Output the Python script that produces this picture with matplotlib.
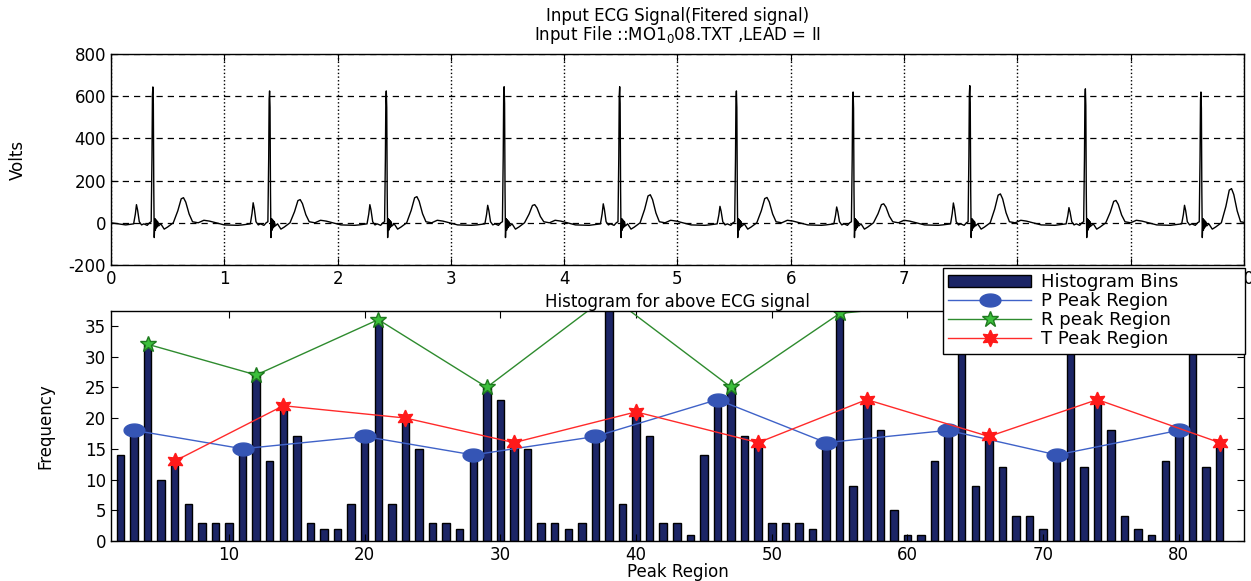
"""
ECG signal and peak-region histogram (recreated figure).
"""

import numpy as np
import matplotlib

matplotlib.use("Agg")
import matplotlib.pyplot as plt
from matplotlib.path import Path


# ==========================================================
# Data
# ==========================================================

# R peak times (s) and per-beat wave amplitudes
r_times = [0.37, 1.40, 2.43, 3.47, 4.49, 5.52, 6.55, 7.58, 8.60, 9.62]
r_amps = [644, 625, 625, 645, 645, 625, 620, 650, 635, 620]
p_amps = [86, 95, 86, 83, 90, 78, 75, 94, 72, 83]
t_amps = [119, 110, 124, 86, 133, 120, 90, 137, 106, 162]

# one beat, knots relative to the R peak: offset (s), value, which wave it belongs to
beat_offsets = [-0.24, -0.17, -0.155, -0.145, -0.135, -0.12, -0.10, -0.08,
                -0.05, -0.03, -0.015, -0.008, -0.004, 0.0, 0.004, 0.008,
                0.012, 0.018, 0.022, 0.026, 0.03, 0.034, 0.038, 0.042,
                0.05, 0.07, 0.10, 0.13, 0.18,
                0.22, 0.25, 0.27, 0.29, 0.32, 0.35, 0.40, 0.45, 0.50,
                0.63, 0.75]
beat_values = [-10, -5, 40, 85, 60, 5, -10, -5,
               -12, 0, 5, 310, 600, 640, 560, 150,
               -70, 20, -35, 15, -25, 10, -20, 5,
               -15, -5, -30, -20, 0,
               55, 110, 115, 95, 40, 5, 0, 12, 8,
               -10, -12]
beat_wave = ["b", "b", "p", "p", "p", "b", "b", "b",
             "b", "b", "b", "r", "r", "r", "r", "r",
             "b", "b", "b", "b", "b", "b", "b", "b",
             "b", "b", "b", "b", "b",
             "t", "t", "t", "t", "t", "b", "b", "b", "b",
             "b", "b"]
signal_start = (0.0, 0.0)

# histogram of the peak regions
bin_centers = list(range(2, 84))
bin_counts = [
    14, 18, 32, 10, 13, 6, 3, 3, 3, 15,       # 2-11
    27, 13, 22, 17, 3, 2, 2, 6, 17, 36,       # 12-21
    6, 20, 15, 3, 3, 2, 14, 25, 23, 16,       # 22-31
    15, 3, 3, 2, 3, 17, 40, 6, 21, 17,        # 32-41
    3, 3, 1, 14, 23, 25, 17, 16, 3, 3,        # 42-51
    3, 2, 16, 37, 9, 23, 18, 5, 1, 1,         # 52-61
    13, 18, 39, 9, 17, 12, 4, 4, 2, 14,       # 62-71
    35, 12, 23, 18, 4, 2, 1, 13, 18, 34,      # 72-81
    12, 16,                                   # 82-83
]

p_region = [3, 11, 20, 28, 37, 46, 54, 63, 71, 80]
p_peak = [18, 15, 17, 14, 17, 23, 16, 18, 14, 18]
r_region = [4, 12, 21, 29, 38, 47, 55, 64, 72, 81]
r_peak = [32, 27, 36, 25, 40, 25, 37, 39, 35, 34]
t_region = [6, 14, 23, 31, 40, 49, 57, 66, 74, 83]
t_peak = [13, 22, 20, 16, 21, 16, 23, 17, 23, 16]


# ==========================================================
# Build the ECG polyline from the beat knots
# ==========================================================

base_amp = {"p": 85.0, "r": 640.0, "t": 115.0}

ecg_t = [signal_start[0]]
ecg_v = [signal_start[1]]
for rt, ra, pa, ta in zip(r_times, r_amps, p_amps, t_amps):
    scale = {"b": 1.0, "p": pa / base_amp["p"],
             "r": ra / base_amp["r"], "t": ta / base_amp["t"]}
    for off, val, wave in zip(beat_offsets, beat_values, beat_wave):
        ecg_t.append(rt + off)
        ecg_v.append(val * scale[wave])

# wide ellipse marker for the P peaks
ang = np.linspace(0, 2 * np.pi, 40)
ellipse = Path(np.column_stack([np.cos(ang), 0.62 * np.sin(ang)]), closed=True)


# ==========================================================
# Figure
# ==========================================================

plt.rcParams["font.family"] = ["DejaVu Sans"]
plt.rcParams["axes.unicode_minus"] = False

fig = plt.figure(figsize=(12.51, 5.81), dpi=100)

ax1 = fig.add_axes([0.0887, 0.5439, 0.9057, 0.3631])
ax2 = fig.add_axes([0.0887, 0.0688, 0.9057, 0.3959])

# ---- top: ECG signal ----
ax1.plot(ecg_t, ecg_v, color="black", linewidth=1.0)
ax1.set_xlim(0, 10)
ax1.set_ylim(-200, 800)
ax1.set_xticks(range(0, 11))
ax1.set_yticks(range(-200, 801, 200))
ax1.xaxis.grid(True, linestyle=":", color="black", linewidth=1.0)
ax1.yaxis.grid(True, linestyle="--", color="black", linewidth=0.9,
               dashes=(5, 4))
ax1.tick_params(direction="in", labelsize=12, length=5, top=True, right=True)
ax1.set_ylabel("Volts", fontsize=12, va="center")
ax1.yaxis.set_label_coords(-0.082, 0.5)

ax1.text(0.5, 1.157, "Input ECG Signal(Fitered signal)",
         transform=ax1.transAxes, ha="center", va="baseline", fontsize=12)
ax1.text(0.5, 1.068, r"Input File ::MO1$_0$08.TXT ,LEAD = II",
         transform=ax1.transAxes, ha="center", va="baseline", fontsize=12)

# ---- bottom: histogram with peak regions ----
bars = ax2.bar(bin_centers, bin_counts, width=0.55, color="#1c2566",
               edgecolor="black", linewidth=1.0, label="Histogram Bins")
p_line, = ax2.plot(p_region, p_peak, color="#3f62c8", linewidth=1.0,
                   marker=ellipse, markersize=15, markerfacecolor="#3555b5",
                   markeredgecolor="#3555b5", label="P Peak Region")
r_line, = ax2.plot(r_region, r_peak, color="#2e8b2e", linewidth=1.0,
                   marker="*", markersize=12, markerfacecolor="#3cbf3c",
                   markeredgecolor="#1f7a1f", label="R peak Region")
t_line, = ax2.plot(t_region, t_peak, color="#ff2a2a", linewidth=1.0,
                   marker=(6, 1, 0), markersize=12, markerfacecolor="#ff1a1a",
                   markeredgecolor="#ff1a1a", label="T Peak Region")

ax2.set_xlim(1.3, 84.8)
ax2.set_ylim(0, 37.4)
ax2.set_xticks(range(10, 81, 10))
ax2.set_yticks(range(0, 36, 5))
ax2.tick_params(direction="in", labelsize=12, length=5, top=True, right=True)
ax2.set_xlabel("Peak Region", fontsize=12, va="center")
ax2.xaxis.set_label_coords(0.5, -0.135)
ax2.set_ylabel("Frequency", fontsize=12, va="center")
ax2.yaxis.set_label_coords(-0.058, 0.5)
ax2.set_title("Histogram for above ECG signal", fontsize=12, pad=3)

leg = ax2.legend([bars, p_line, r_line, t_line],
                 ["Histogram Bins", "P Peak Region", "R peak Region",
                  "T Peak Region"],
                 loc="upper left", mode="expand",
                 bbox_to_anchor=(0.7538, 0.39, 0.2414, 0.1487),
                 bbox_transform=fig.transFigure, fontsize=13,
                 frameon=True, fancybox=False, edgecolor="black",
                 framealpha=1.0, handlelength=4.6, labelspacing=0.05,
                 borderpad=0.3, handletextpad=0.5, borderaxespad=0.0)
leg.get_frame().set_linewidth(1.0)
leg.set_zorder(10)

for ax in (ax1, ax2):
    for spine in ax.spines.values():
        spine.set_linewidth(1.0)

fig.savefig("out.png", dpi=100)
plt.close(fig)
